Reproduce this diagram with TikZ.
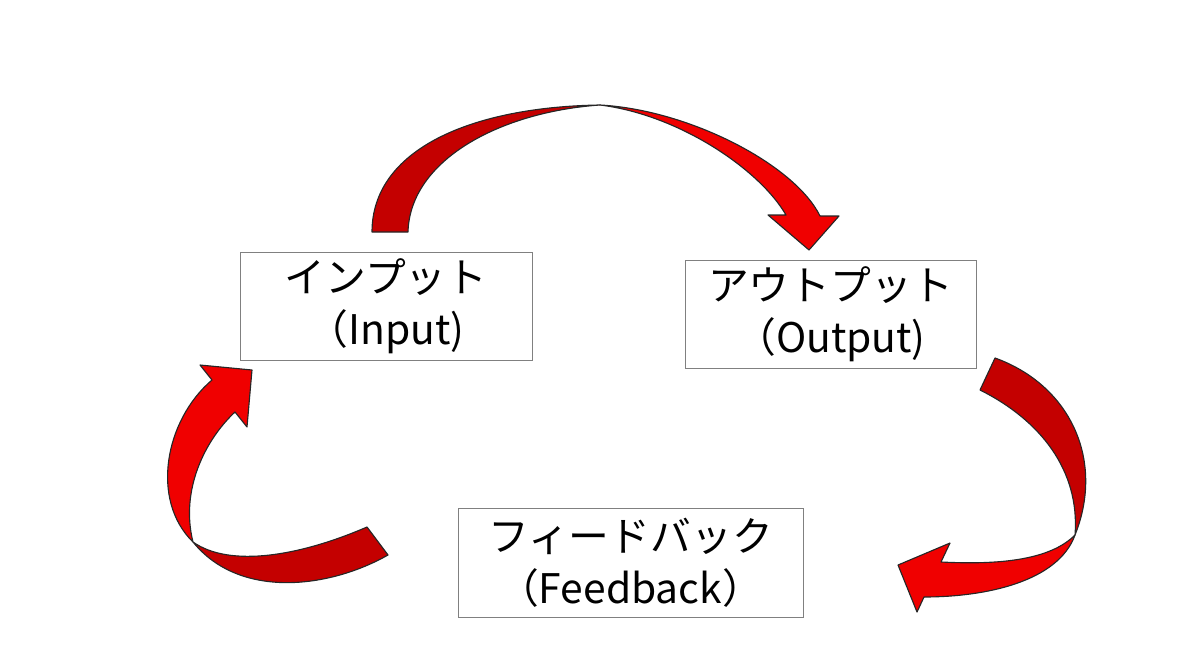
\documentclass[tikz,border=0pt]{standalone}
\usepackage{fontspec}
\setmainfont{Noto Sans CJK JP}
\usetikzlibrary{positioning}

\definecolor{ribbonred}{RGB}{240,0,0}
\definecolor{ribbondark}{RGB}{196,0,0}

\tikzset{
  box/.style={rectangle, draw=black!50, line width=0.6pt, align=center, inner sep=0pt,
    font=\fontsize{29}{37}\selectfont},
  front/.style={fill=ribbonred, draw=black!85, line width=0.8pt, line join=round},
  back/.style={fill=ribbondark, draw=black!85, line width=0.8pt, line join=round}
}

\begin{document}
\begin{tikzpicture}[x=0.025cm, y=-0.025cm]
\useasboundingbox (0,0) rectangle (1200,663);
\node[box, minimum width=7.3cm, minimum height=2.7cm] (input) at (386,306) {インプット\\（Input)};
\node[box, minimum width=7.275cm, minimum height=2.7cm, right=3.8cm of input, yshift=-0.2cm] (output) {アウトプット\\（Output)};
\node[box, minimum width=8.625cm, minimum height=2.725cm] (feedback) at (630.5,562.5) {フィードバック\\（Feedback）};

% input -> output, over the top
\coordinate (twist_top) at (600,105);
\draw[back] (372,232) .. controls (372,150) and (470,107) .. (twist_top)
  .. controls (500,112) and (410,160) .. (408,232) -- cycle;
\draw[front] (twist_top) .. controls (690,110) and (795,165) .. (820,216) -- (839,216) -- (809,250)
  -- (768,215) -- (786,215) .. controls (760,170) and (680,115) .. (twist_top) -- cycle;

% output -> feedback
\coordinate (twist_right) at (1075,535);
\draw[back] (995,358) .. controls (1070,385) and (1105,460) .. (twist_right)
  .. controls (1080,470) and (1040,420) .. (980,390) -- cycle;
\draw[front] (twist_right) .. controls (1050,560) and (1000,565) .. (941,562) -- (950,543) -- (898,565)
  -- (917,612) -- (924,597) .. controls (985,597) and (1058,582) .. (twist_right) -- cycle;

% feedback -> input
\coordinate (twist_left) at (193,542);
\draw[front] (252,370) -- (247,427) -- (235,412) .. controls (205,440) and (180,490) .. (twist_left)
  .. controls (150,500) and (165,420) .. (212,380) -- (200,365) -- cycle;
\draw[back] (twist_left) .. controls (230,568) and (300,556) .. (367,527) -- (388,555)
  .. controls (330,588) and (240,600) .. (twist_left) -- cycle;
\end{tikzpicture}
\end{document}
